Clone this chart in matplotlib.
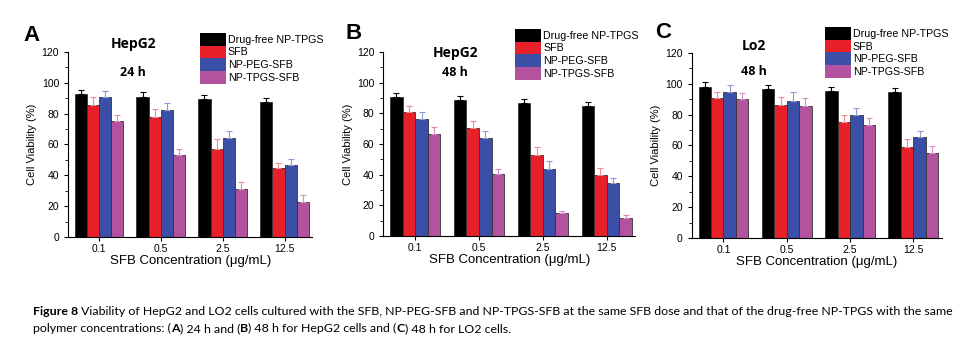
import numpy as np
import matplotlib
matplotlib.use('Agg')
import matplotlib.pyplot as plt
from matplotlib.ticker import MultipleLocator

# ------------------------------------------------------------------
# data
# ------------------------------------------------------------------
concs = ['0.1', '0.5', '2.5', '12.5']
series = ['Drug-free NP-TPGS', 'SFB', 'NP-PEG-SFB', 'NP-TPGS-SFB']

a_black = [93, 91, 89.5, 87.5]
a_red = [85.5, 78, 57, 44.5]
a_blue = [90.5, 82.5, 64, 47]
a_mag = [75, 53, 31, 23]
a_black_err = [2, 3, 2.5, 2.5]
a_red_err = [5, 5, 6.5, 3.5]
a_blue_err = [4, 4.5, 5, 3.5]
a_mag_err = [4, 4, 4.5, 4.5]

b_black = [90.5, 88.5, 86.5, 84.5]
b_red = [80.5, 70.5, 52.5, 39.5]
b_blue = [76.5, 64, 43.5, 34.5]
b_mag = [66.5, 40.5, 15, 12]
b_black_err = [3, 2.5, 2.5, 3]
b_red_err = [4, 4.5, 5.5, 4.5]
b_blue_err = [4, 4.5, 5.5, 3]
b_mag_err = [4.5, 3, 1, 1.5]

c_black = [98, 96.5, 95.5, 94.5]
c_red = [90.5, 86.5, 75.5, 59]
c_blue = [94.5, 89, 79.5, 65.5]
c_mag = [90, 85.5, 73, 55]
c_black_err = [3, 3, 2.5, 2.5]
c_red_err = [4.5, 5, 4.5, 5]
c_blue_err = [4.5, 6, 4.5, 4]
c_mag_err = [4, 5, 5, 4.5]

panels = [
    ('A', 'HepG2', '24 h', [a_black, a_red, a_blue, a_mag],
     [a_black_err, a_red_err, a_blue_err, a_mag_err]),
    ('B', 'HepG2', '48 h', [b_black, b_red, b_blue, b_mag],
     [b_black_err, b_red_err, b_blue_err, b_mag_err]),
    ('C', 'Lo2', '48 h', [c_black, c_red, c_blue, c_mag],
     [c_black_err, c_red_err, c_blue_err, c_mag_err]),
]

colors = ['#000000', '#e8202a', '#3b4fa6', '#b3529f']
err_colors = ['#000000', '#f08a8e', '#8d99cf', '#d58fc6']

# axes positions in figure fractions [left, bottom, width, height]
positions = [
    [0.070, 0.315, 0.251, 0.535],
    [0.394, 0.318, 0.259, 0.532],
    [0.711, 0.312, 0.257, 0.535],
]
# per panel: letter (x, y), cell-name (x, y), time y, legend anchor
letter_xy = [(-0.184, 1.086), (-0.151, 1.10), (-0.148, 1.11)]
cell_xy = [(0.266, 1.04), (0.286, 0.995), (0.25, 1.04)]
time_y = [0.89, 0.89, 0.90]
legend_xy = [(0.54, 1.103), (0.524, 1.125), (0.532, 1.14)]

plt.rcParams['font.family'] = ['Liberation Sans', 'DejaVu Sans']

fig = plt.figure(figsize=(9.73, 3.46), dpi=100)

x = np.arange(len(concs))
w = 0.197

for k, ((letter, cell, time, vals, errs), pos) in enumerate(zip(panels, positions)):
    ax = fig.add_axes(pos)
    for i, (v, e) in enumerate(zip(vals, errs)):
        xs = x + (i - 1.5) * w
        ax.bar(xs, v, width=w, color=colors[i], edgecolor='#333333',
               linewidth=0.6, label=series[i], zorder=2)
        ax.errorbar(xs, v, yerr=[np.zeros(len(e)), e], fmt='none',
                    ecolor=err_colors[i], elinewidth=0.8, capsize=2.5,
                    capthick=0.8, zorder=3)
    ax.set_xlim(-0.5, 3.45)
    ax.set_ylim(0, 120)
    ax.yaxis.set_major_locator(MultipleLocator(20))
    ax.yaxis.set_minor_locator(MultipleLocator(10))
    ax.set_xticks(x)
    ax.set_xticklabels(concs)
    for s in ['top', 'right']:
        ax.spines[s].set_visible(False)
    ax.tick_params(axis='both', labelsize=7.5, direction='out', length=3)
    ax.tick_params(axis='y', which='minor', length=2)
    ax.tick_params(axis='x', length=3, pad=2)
    ax.set_ylabel('Cell Viability (%)', fontsize=8, labelpad=3)
    ax.set_xlabel('SFB Concentration (\u03bcg/mL)', fontsize=9.5, labelpad=1)

    ax.text(*letter_xy[k], letter, transform=ax.transAxes, fontsize=16,
            fontweight='bold', ha='left', va='center')
    ax.text(*cell_xy[k], cell, transform=ax.transAxes, fontsize=10,
            fontweight='bold', ha='center', va='center', family='Open Sans')
    ax.text(cell_xy[k][0], time_y[k], time, transform=ax.transAxes, fontsize=9,
            fontweight='bold', ha='center', va='center', family='Open Sans')

    leg = ax.legend(loc='upper left', bbox_to_anchor=legend_xy[k],
                    fontsize=7.7, frameon=False, handlelength=2.4,
                    handleheight=1.45, labelspacing=0.0, handletextpad=0.2,
                    borderpad=0, borderaxespad=0)
    for p in leg.get_patches():
        p.set_edgecolor('none')

# ------------------------------------------------------------------
# caption
# ------------------------------------------------------------------
renderer = fig.canvas.get_renderer()
cap_font = dict(fontsize=8.9, family='Lato', va='baseline', ha='left')


def draw_runs(runs, x0, y0):
    xp = x0
    for txt, bold in runs:
        t = fig.text(xp, y0, txt, fontweight='bold' if bold else 'normal',
                     **cap_font)
        bb = t.get_window_extent(renderer=renderer)
        xp += bb.width / fig.bbox.width


line1 = [('Figure 8 ', True),
         ('Viability of HepG2 and LO2 cells cultured with the SFB, NP-PEG-SFB and '
          'NP-TPGS-SFB at the same SFB dose and that of the drug-free NP-TPGS with '
          'the same', False)]
line2 = [('polymer concentrations: (', False), ('A', True),
         (') 24 h and (', False), ('B', True),
         (') 48 h for HepG2 cells and (', False), ('C', True),
         (') 48 h for LO2 cells.', False)]
draw_runs(line1, 0.034, 1 - 315 / 346)
draw_runs(line2, 0.034, 1 - 332 / 346)

fig.savefig('out.png', dpi=100)
